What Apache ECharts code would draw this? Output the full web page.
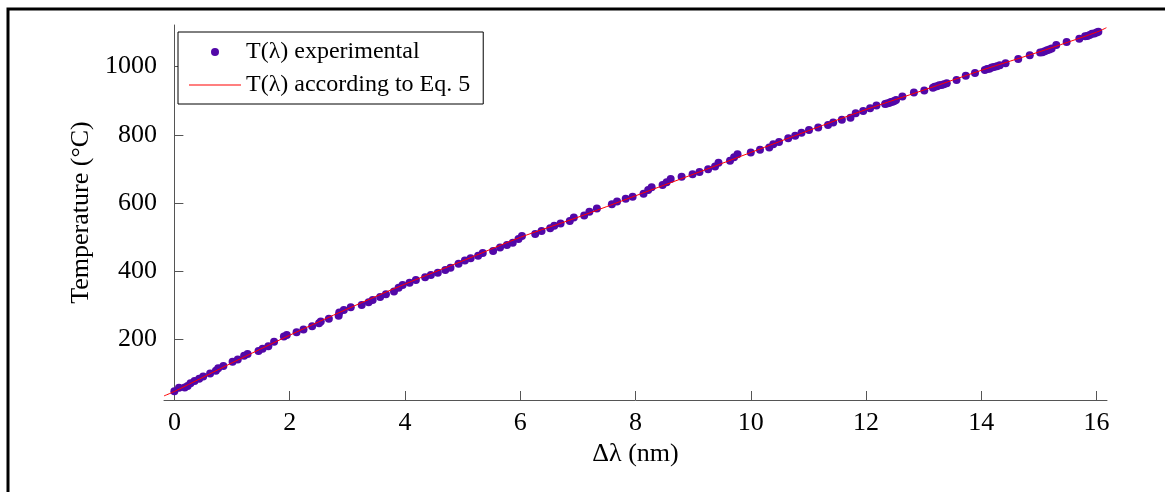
<!DOCTYPE html>
<html>
<head>
<meta charset="utf-8">
<script src="https://cdn.jsdelivr.net/npm/echarts@6/dist/echarts.min.js"></script>
<style>
  html, body { margin: 0; padding: 0; background: #fff; }
  #chart { width: 1165px; height: 492px; }
</style>
</head>
<body>
<div id="chart"></div>
<script>
// measured points, Δλ (nm)
var expX = [0.00, 0.08, 0.18, 0.23, 0.28, 0.35, 0.43, 0.50, 0.62, 0.72, 0.76, 0.85, 1.01, 1.10, 1.21, 1.27, 1.46, 1.53, 1.63, 1.73, 1.90, 1.95, 2.12, 2.24, 2.39, 2.51, 2.54, 2.68,
  2.85, 2.86, 2.94, 3.06, 3.25, 3.37, 3.44, 3.57, 3.67, 3.81, 3.89, 3.96, 4.08, 4.19, 4.35, 4.45, 4.57, 4.70, 4.79, 4.93, 5.04, 5.14, 5.27, 5.35,
  5.53, 5.65, 5.77, 5.87, 5.97, 6.03, 6.26, 6.37, 6.52, 6.59, 6.70, 6.86, 6.93, 7.11, 7.20, 7.33, 7.59, 7.68, 7.83, 7.95, 8.14, 8.22,
  8.28, 8.47, 8.54, 8.61, 8.80, 8.99, 9.11, 9.26, 9.38, 9.44, 9.64, 9.71, 9.77, 10.00, 10.16, 10.32, 10.39, 10.49, 10.65, 10.77, 10.88, 11.01,
  11.17, 11.34, 11.43, 11.58, 11.73, 11.82, 11.95, 12.07, 12.18,
  12.33, 12.36, 12.40, 12.43, 12.46, 12.49, 12.52,
  12.63, 12.83, 13.01,
  13.16, 13.19, 13.23, 13.27, 13.31, 13.35, 13.40,
  13.57, 13.73, 13.89,
  14.06, 14.10, 14.14, 14.18, 14.22, 14.27, 14.32,
  14.42, 14.64, 14.84,
  15.02, 15.06, 15.10, 15.14, 15.18, 15.22,
  15.30, 15.48, 15.70,
  15.80, 15.84, 15.88, 15.92, 15.96, 16.00, 16.03]
// measured temperature (°C)
var expT = [48, 58, 59, 63, 71, 78, 84, 91, 100, 108, 115, 122, 134, 141, 152, 157, 166, 172, 180, 193, 208, 213, 221, 229, 238, 247, 252, 260,
  269, 279, 286, 294, 301, 309, 315, 324, 332, 340, 351, 359, 366, 374, 382, 389, 395, 403, 410, 422, 431, 438, 445, 453,
  459, 469, 477, 483, 494, 503, 509, 518, 526, 533, 540, 547, 557, 563, 574, 584, 596, 604, 612, 618, 627, 638,
  646, 653, 661, 670, 677, 684, 691, 699, 707, 718, 724, 734, 743, 748, 756, 763, 772, 779, 790, 797, 806, 814,
  821, 829, 836, 844, 850, 863, 870, 878, 886,
  890, 892, 893, 896, 897, 899, 902,
  912, 924, 930,
  938, 941, 942, 945, 946, 948, 951,
  961, 973, 981,
  990, 993, 994, 997, 999, 1001, 1004,
  1010, 1022, 1033,
  1041, 1042, 1045, 1048, 1050, 1053,
  1063, 1072, 1082,
  1089, 1090, 1093, 1096, 1097, 1100, 1102]

// Eq. 5 curve
var fitX = [-0.18, 0, 1, 2, 3, 4, 5, 6, 7, 8, 9, 10, 11, 12, 13, 14, 15, 16, 16.17]
var fitT = [34, 47, 131, 212, 289, 362, 430, 499, 558, 621, 684, 748, 812, 874, 931, 989, 1043, 1101, 1114]

var xTicks = [0, 2, 4, 6, 8, 10, 12, 14, 16]
var yTicks = [200, 400, 600, 800, 1000]

var serif = 'Liberation Serif, Times New Roman, serif'
var axisColor = '#555'

var expData = expX.map(function (x, i) { return [x, expT[i]] })
var fitData = fitX.map(function (x, i) { return [x, fitT[i]] })

var chart = echarts.init(document.getElementById('chart'))
chart.setOption({
  animation: false,
  backgroundColor: '#fff',
  graphic: [{
    type: 'rect',
    silent: true,
    shape: { x: 8, y: 9, width: 1200, height: 600 },
    style: { fill: 'none', stroke: '#000', lineWidth: 3 }
  }],
  grid: { left: 164, right: 58, top: 25, bottom: 92 },
  legend: {
    orient: 'vertical',
    left: 178,
    top: 32,
    itemWidth: 52,
    itemHeight: 8,
    itemGap: 9,
    itemTextGap: 4,
    padding: [8, 13, 7, 11],
    borderColor: '#000',
    borderWidth: 1,
    backgroundColor: '#fff',
    textStyle: { fontFamily: serif, fontSize: 24, color: '#000' },
    data: [
      { name: 'T(λ) experimental', icon: 'circle' },
      { name: 'T(λ) according to Eq. 5', icon: 'path://M0,0 L52,0 L52,1 L0,1 Z' }
    ]
  },
  xAxis: {
    type: 'value',
    min: -0.18,
    max: 16.18,
    name: 'Δλ (nm)',
    nameLocation: 'middle',
    nameGap: 36,
    nameTextStyle: { fontFamily: serif, fontSize: 26, color: '#000' },
    axisLine: { lineStyle: { color: axisColor, width: 1 } },
    axisTick: { inside: true, length: 9, customValues: xTicks, lineStyle: { color: axisColor } },
    axisLabel: { customValues: xTicks, fontFamily: serif, fontSize: 26, color: '#000', margin: 10 },
    splitLine: { show: false }
  },
  yAxis: {
    type: 'value',
    min: 22,
    max: 1122,
    name: 'Temperature (°C)',
    nameLocation: 'middle',
    nameRotate: 90,
    nameGap: 69,
    nameTextStyle: { fontFamily: serif, fontSize: 26, color: '#000' },
    axisLine: { show: true, lineStyle: { color: axisColor, width: 1 } },
    axisTick: { show: true, inside: true, length: 9, customValues: yTicks, lineStyle: { color: axisColor } },
    axisLabel: {
      customValues: yTicks,
      formatter: function (v) { return String(v) },
      fontFamily: serif,
      fontSize: 26,
      color: '#000',
      margin: 7
    },
    splitLine: { show: false }
  },
  series: [
    {
      name: 'T(λ) experimental',
      type: 'scatter',
      data: expData,
      symbol: 'circle',
      symbolSize: 8,
      itemStyle: { color: '#5208a8', opacity: 1 },
      z: 2
    },
    {
      name: 'T(λ) according to Eq. 5',
      type: 'line',
      data: fitData,
      symbol: 'none',
      smooth: 0.3,
      lineStyle: { color: '#ff0000', width: 1 },
      itemStyle: { color: '#ff0000' },
      z: 3
    }
  ]
})
</script>
</body>
</html>
